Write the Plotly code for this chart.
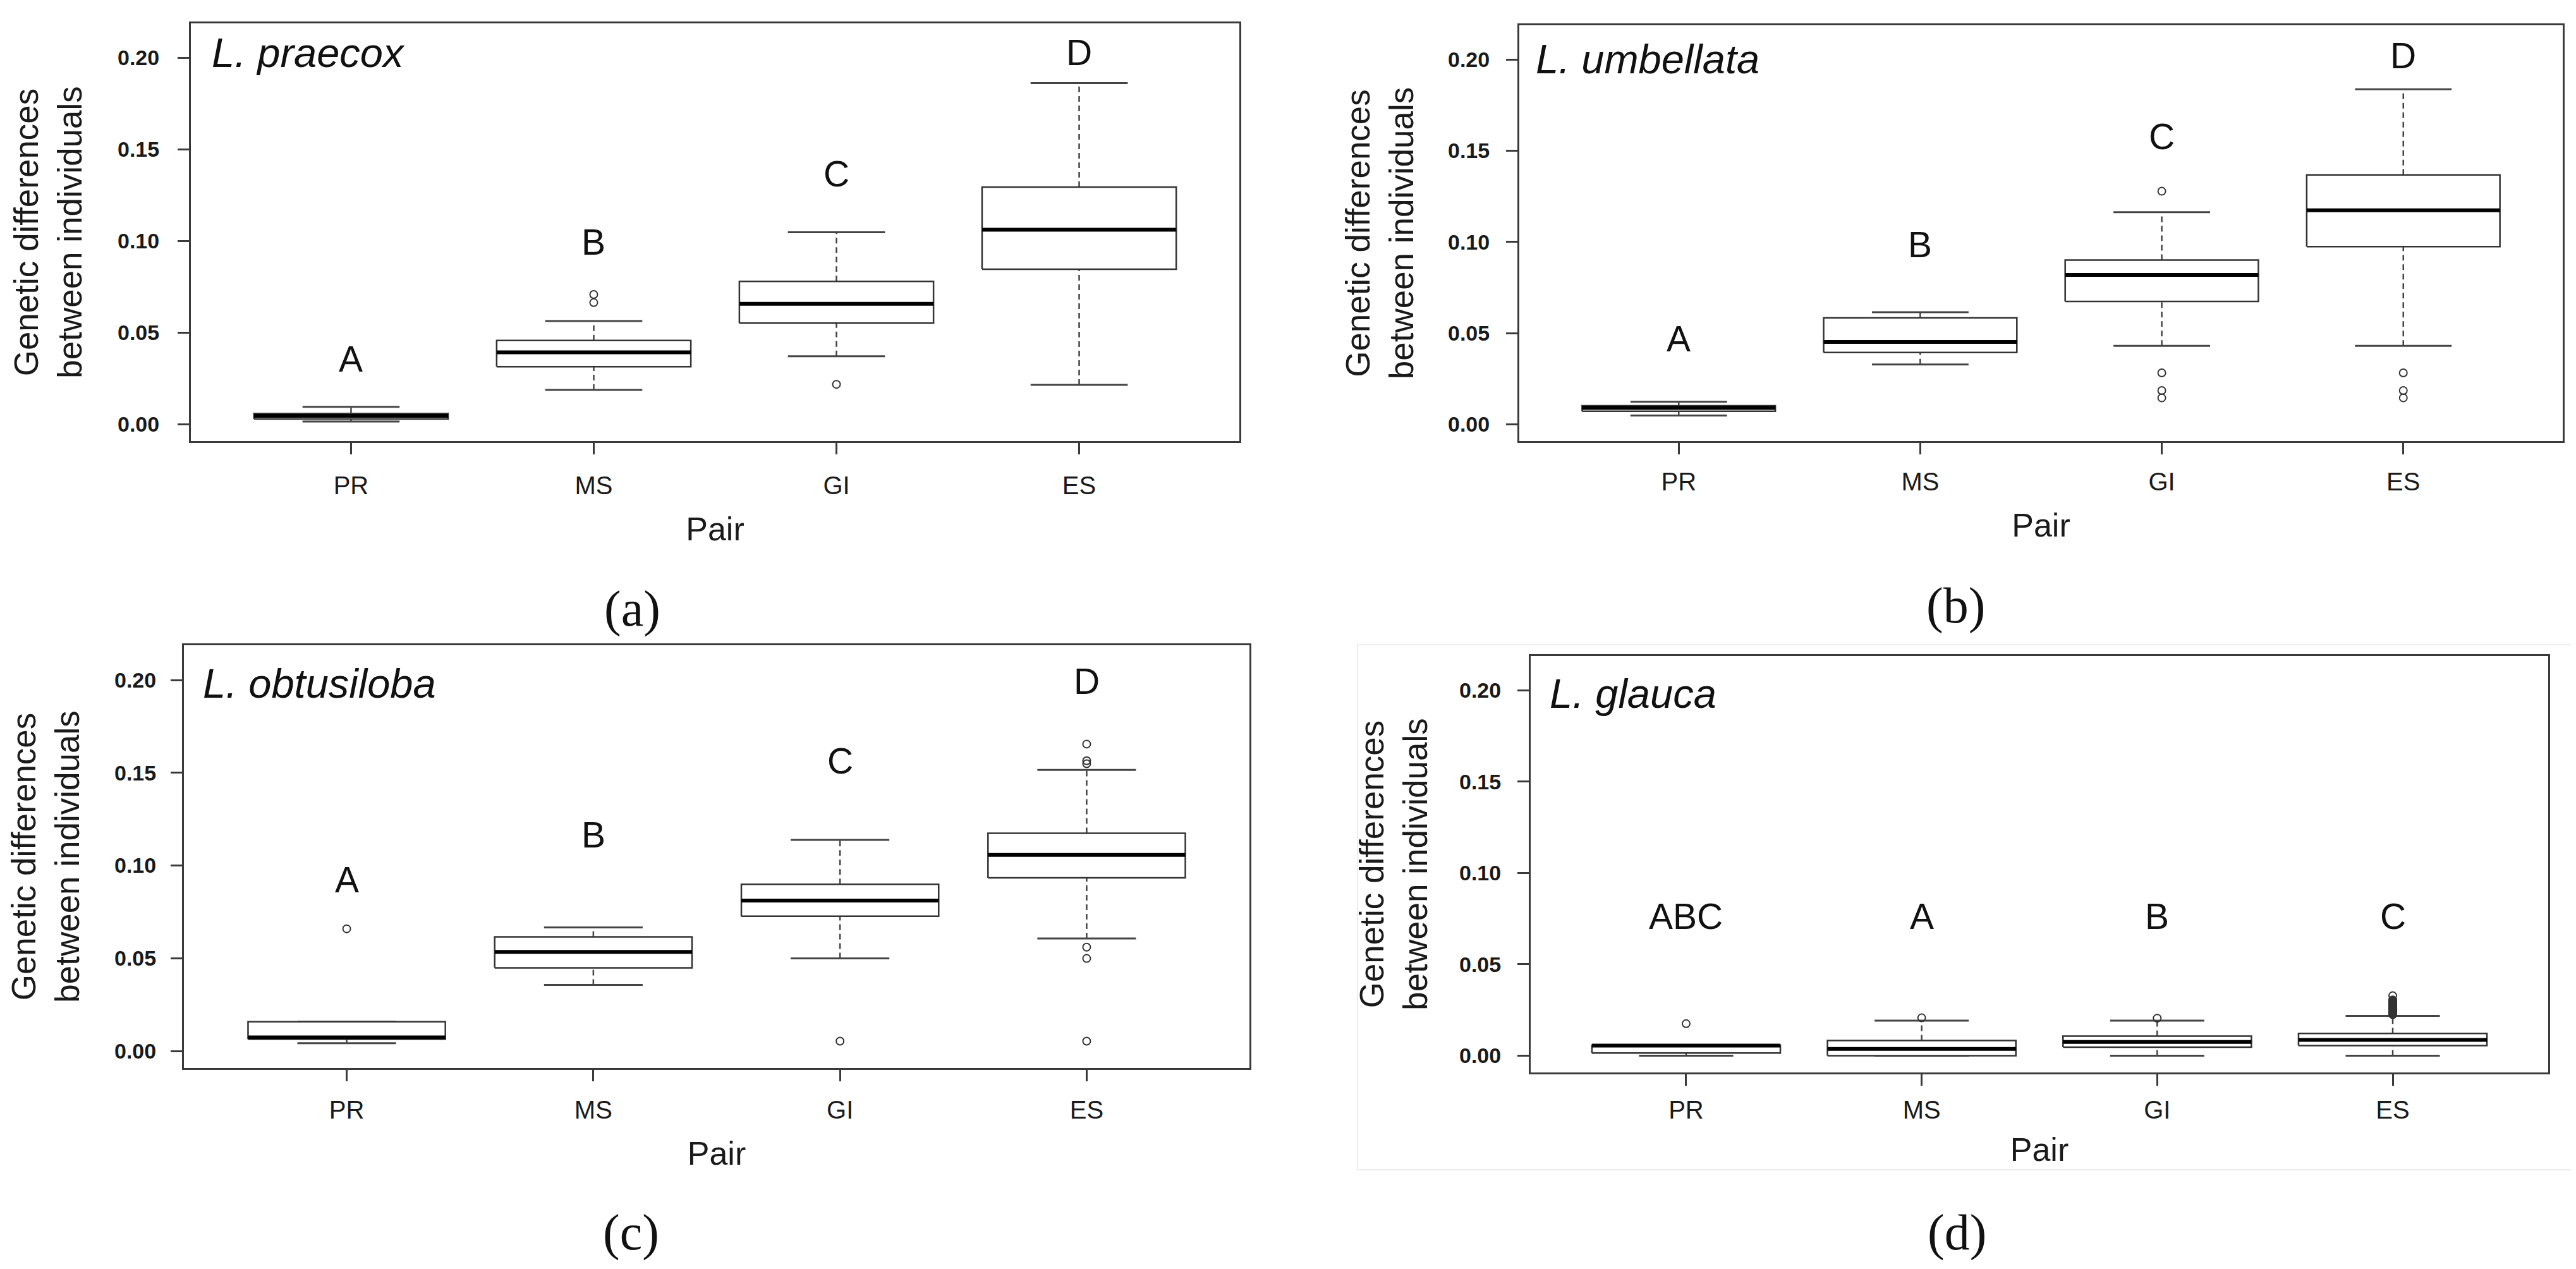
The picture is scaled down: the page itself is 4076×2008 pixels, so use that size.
import plotly.graph_objects as go

W, H = 4076, 2008

categories = ["PR", "MS", "GI", "ES"]
cat_pos = [1, 2, 3, 4]

# ---- panel (a) L. praecox
a_low = [0.0015, 0.0187, 0.0371, 0.0215]
a_q1 = [0.0029, 0.0314, 0.0552, 0.0846]
a_med = [0.0046, 0.0393, 0.0657, 0.1062]
a_q3 = [0.0059, 0.0457, 0.0780, 0.1295]
a_high = [0.0095, 0.0563, 0.1048, 0.1862]
a_out = [[], [0.0664, 0.0708], [0.0218], []]
a_letters = ["A", "B", "C", "D"]
a_letter_y = [0.0355, 0.0996, 0.1368, 0.2030]

# ---- panel (b) L. umbellata
b_low = [0.0048, 0.0328, 0.0430, 0.0430]
b_q1 = [0.0072, 0.0394, 0.0674, 0.0974]
b_med = [0.0090, 0.0452, 0.0819, 0.1174]
b_q3 = [0.0102, 0.0584, 0.0901, 0.1368]
b_high = [0.0124, 0.0615, 0.1163, 0.1837]
b_out = [[], [], [0.1278, 0.0282, 0.0185, 0.0145], [0.0282, 0.0185, 0.0145]]
b_letters = ["A", "B", "C", "D"]
b_letter_y = [0.0471, 0.0985, 0.1577, 0.2020]

# ---- panel (c) L. obtusiloba
c_low = [0.0042, 0.0356, 0.0499, 0.0607]
c_q1 = [0.0064, 0.0448, 0.0727, 0.0934]
c_med = [0.0073, 0.0534, 0.0811, 0.1057]
c_q3 = [0.0158, 0.0615, 0.0899, 0.1174]
c_high = [0.0158, 0.0666, 0.1138, 0.1516]
c_out = [[0.0659], [], [0.0053], [0.1655, 0.1565, 0.1549, 0.0560, 0.0499, 0.0053]]
c_letters = ["A", "B", "C", "D"]
c_letter_y = [0.0923, 0.1167, 0.1565, 0.1993]

# ---- panel (d) L. glauca
d_low = [0.0, 0.0, 0.0, 0.0]
d_q1 = [0.0014, 0.0, 0.0046, 0.0055]
d_med = [0.0055, 0.0037, 0.0075, 0.0086]
d_q3 = [0.0057, 0.0083, 0.0107, 0.0122]
d_high = [0.0057, 0.0192, 0.0192, 0.0218]
d_out = [[0.0175], [0.0207], [0.0205],
         [0.0328, 0.0305, 0.0302, 0.0298, 0.0294, 0.0290, 0.0286, 0.0282,
          0.0278, 0.0275, 0.0271, 0.0268, 0.0264, 0.0260, 0.0256, 0.0252,
          0.0249, 0.0245, 0.0241, 0.0238, 0.0234, 0.0230, 0.0227, 0.0224]]
d_letters = ["ABC", "A", "B", "C"]
d_letter_y = [0.0764, 0.0764, 0.0764, 0.0764]

species = ["L. praecox", "L. umbellata", "L. obtusiloba", "L. glauca"]
panel_tags = ["(a)", "(b)", "(c)", "(d)"]
y_tickvals = [0.00, 0.05, 0.10, 0.15, 0.20]
y_ticktext = ["0.00", "0.05", "0.10", "0.15", "0.20"]
x_title = "Pair"
y_title = "Genetic differences<br>between individuals"

data = [
    (a_low, a_q1, a_med, a_q3, a_high, a_out, a_letters, a_letter_y),
    (b_low, b_q1, b_med, b_q3, b_high, b_out, b_letters, b_letter_y),
    (c_low, c_q1, c_med, c_q3, c_high, c_out, c_letters, c_letter_y),
    (d_low, d_q1, d_med, d_q3, d_high, d_out, d_letters, d_letter_y),
]

# ---- layout geometry (pixels in the 4076 x 2008 canvas)
boxes_px = [  # left, right, top, bottom
    (294, 1953, 29, 690),
    (2396, 4047, 32, 690),
    (283, 1969, 1013, 1682),
    (2414, 4024, 1030, 1689),
]
species_px = [(325, 76), (2420, 86), (311, 1073), (2442, 1089)]
tag_px = [(992, 955), (3086, 950), (990, 1942), (3088, 1942)]
xtick_standoff = [15, 9, 11, 4]
ytick_standoff = [22, 19, 16, 19]
xtitle_standoff = [30, 30, 30, 24]
ytitle_standoff = [40, 38, 40, 34]

SANS = "Liberation Sans, Arial, sans-serif"
SERIF = "Liberation Serif, Times New Roman, serif"
FRAME = "#3a3a3a"
HALF = 0.4      # half box width (boxwex 0.8)
STAPLE = 0.2    # half staple width

fig = go.Figure()
annotations = []

for i, (low, q1, med, q3, high, outs, letters, letter_y) in enumerate(data):
    sfx = "" if i == 0 else str(i + 1)
    xa, ya = "x" + sfx, "y" + sfx

    # whiskers (dashed)
    wx, wy = [], []
    for c, lo, a, b, hi in zip(cat_pos, low, q1, q3, high):
        wx += [c, c, None, c, c, None]
        wy += [b, hi, None, lo, a, None]
    fig.add_trace(go.Scatter(x=wx, y=wy, mode="lines", xaxis=xa, yaxis=ya,
                             line=dict(color="#444444", width=2.5, dash="9px,6px"),
                             hoverinfo="skip", showlegend=False))
    # staples
    sx, sy = [], []
    for c, lo, hi in zip(cat_pos, low, high):
        sx += [c - STAPLE, c + STAPLE, None, c - STAPLE, c + STAPLE, None]
        sy += [hi, hi, None, lo, lo, None]
    fig.add_trace(go.Scatter(x=sx, y=sy, mode="lines", xaxis=xa, yaxis=ya,
                             line=dict(color="#444444", width=3),
                             hoverinfo="skip", showlegend=False))
    # boxes
    for c, a, b in zip(cat_pos, q1, q3):
        fig.add_trace(go.Scatter(x=[c - HALF, c + HALF, c + HALF, c - HALF, c - HALF],
                                 y=[a, a, b, b, a], mode="lines", fill="toself",
                                 fillcolor="white", xaxis=xa, yaxis=ya,
                                 line=dict(color="#333333", width=2.5),
                                 hoverinfo="skip", showlegend=False))
    # medians
    mx, my = [], []
    for c, m in zip(cat_pos, med):
        mx += [c - HALF, c + HALF, None]
        my += [m, m, None]
    fig.add_trace(go.Scatter(x=mx, y=my, mode="lines", xaxis=xa, yaxis=ya,
                             line=dict(color="black", width=6),
                             hoverinfo="skip", showlegend=False))
    # outliers
    ox, oy = [], []
    for c, o in zip(cat_pos, outs):
        ox += [c] * len(o)
        oy += o
    fig.add_trace(go.Scatter(x=ox, y=oy, mode="markers", xaxis=xa, yaxis=ya,
                             marker=dict(symbol="circle-open", size=12, color="#333333",
                                         line=dict(width=2, color="#333333")),
                             hoverinfo="skip", showlegend=False))
    # significance letters
    for c, t, yv in zip(cat_pos, letters, letter_y):
        annotations.append(dict(x=c, y=yv, xref=xa, yref=ya, text=t, showarrow=False,
                                font=dict(family=SANS, size=57, color="#111111"),
                                xanchor="center", yanchor="middle"))

    L, R, T, B = boxes_px[i]
    axis_common = dict(showline=True, mirror=True, linecolor=FRAME, linewidth=3,
                       ticks="outside", ticklen=18, tickwidth=3, tickcolor=FRAME,
                       showgrid=False, zeroline=False)
    fig.update_layout(**{
        "xaxis" + sfx: dict(domain=[L / W, R / W], anchor=ya, range=[0.34, 4.66],
                            tickvals=cat_pos, ticktext=categories,
                            tickfont=dict(family=SANS, size=40, color="#1a1a1a"),
                            ticklabelstandoff=xtick_standoff[i],
                            title=dict(text=x_title, standoff=xtitle_standoff[i],
                                       font=dict(family=SANS, size=52, color="#1a1a1a")),
                            **axis_common),
        "yaxis" + sfx: dict(domain=[1 - B / H, 1 - T / H], anchor=xa,
                            range=[-0.0092, 0.2188],
                            tickvals=y_tickvals, ticktext=y_ticktext,
                            tickfont=dict(family=SANS, size=34, color="#1a1a1a", weight="bold"),
                            ticklabelstandoff=ytick_standoff[i],
                            title=dict(text=y_title, standoff=ytitle_standoff[i],
                                       font=dict(family=SANS, size=53, color="#1a1a1a")),
                            **axis_common),
    })

    sx_, sy_ = species_px[i]
    annotations.append(dict(x=sx_ / W, y=1 - sy_ / H, xref="paper", yref="paper",
                            text="<i>" + species[i] + "</i>", showarrow=False,
                            xanchor="left", yanchor="middle",
                            font=dict(family=SANS, size=65, color="#111111")))
    tx, ty = tag_px[i]
    annotations.append(dict(x=tx / W, y=1 - ty / H, xref="paper", yref="paper",
                            text=panel_tags[i], showarrow=False,
                            xanchor="center", yanchor="middle",
                            font=dict(family=SERIF, size=80, color="#111111")))

fig.update_layout(
    width=W, height=H, margin=dict(l=0, r=0, t=0, b=0),
    paper_bgcolor="white", plot_bgcolor="white",
    annotations=annotations,
    shapes=[dict(type="rect", xref="paper", yref="paper",
                 x0=2140 / W, x1=4068 / W, y0=1 - 1843 / H, y1=1 - 1012 / H,
                 line=dict(color="#ededed", width=2), layer="below")],
)

fig.write_html("out.html")
